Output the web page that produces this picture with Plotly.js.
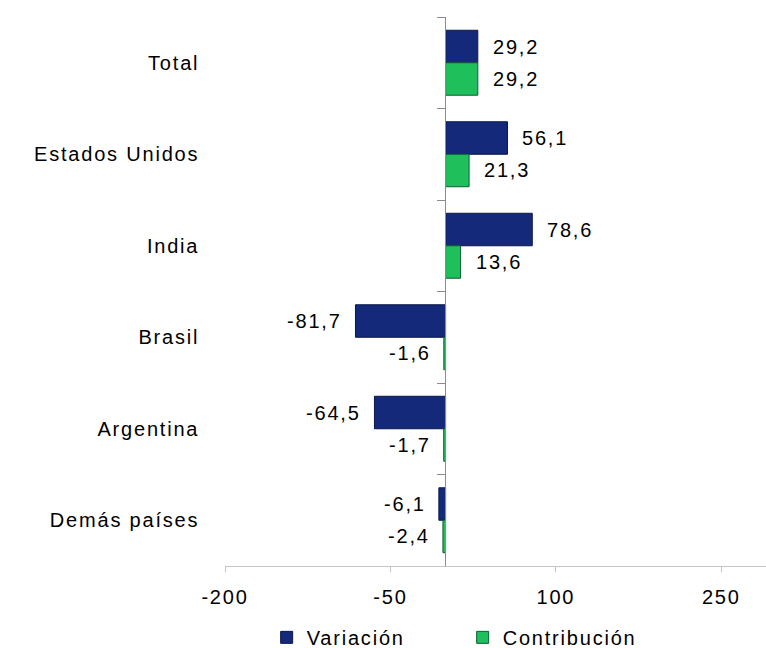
<!DOCTYPE html>
<html>
<head>
<meta charset="utf-8">
<script src="https://cdn.plot.ly/plotly-3.0.1.min.js"></script>
<style>
  html, body { margin: 0; padding: 0; background: #ffffff; }
  svg text { letter-spacing: 1.8px; }
</style>
</head>
<body>
<div id="chart" style="width:766px;height:648px;"></div>
<script>
const categories = ['Total', 'Estados Unidos', 'India', 'Brasil', 'Argentina', 'Demás países'];
const variacion = [29.2, 56.1, 78.6, -81.7, -64.5, -6.1];
const contribucion = [29.2, 21.3, 13.6, -1.6, -1.7, -2.4];
const seriesNames = ['Variación', 'Contribución'];
const tickValues = [-200, -50, 100, 250];

const FONT = 'Liberation Sans, Arial, sans-serif';
const fmt = v => v.toFixed(1).replace('.', ',');

const colors = ['#15297a', '#1fbf5c'];
const lineColors = ['#0a1748', '#0e5c33'];
const seriesValues = [variacion, contribucion];

const traces = seriesValues.map((vals, t) => ({
  type: 'bar',
  orientation: 'h',
  name: seriesNames[t],
  x: vals,
  y: categories,
  marker: { color: colors[t], line: { color: lineColors[t], width: 1 } },
  hoverinfo: 'x+y'
}));

const annotations = [];
seriesValues.forEach((vals, t) => {
  vals.forEach((v, i) => {
    annotations.push({
      x: v, y: categories[i], xref: 'x', yref: 'y',
      text: fmt(v), showarrow: false,
      xanchor: v >= 0 ? 'left' : 'right',
      xshift: v >= 0 ? 13 : -11,
      yshift: t === 0 ? 16 : -16,
      font: { family: FONT, size: 20, color: '#000000' }
    });
  });
});

const layout = {
  width: 766, height: 648,
  margin: { l: 225, r: 0, t: 17, b: 82, autoexpand: false },
  paper_bgcolor: '#ffffff', plot_bgcolor: '#ffffff',
  font: { family: FONT, size: 20, color: '#000000' },
  barmode: 'group', bargap: 0.29, bargroupgap: 0,
  showlegend: true,
  legend: {
    orientation: 'h', x: 0.077, xanchor: 'left', y: -0.13, yanchor: 'middle',
    font: { family: FONT, size: 20, color: '#000000' },
    traceorder: 'normal', entrywidth: 151
  },
  xaxis: {
    range: [-200, 290.5],
    tickvals: tickValues,
    ticktext: tickValues.map(String),
    showline: true, linecolor: '#c4c4c4', linewidth: 1,
    ticks: 'outside', ticklen: 5, tickcolor: '#c4c4c4',
    showgrid: false, zeroline: false,
    ticklabelstandoff: 8,
    tickfont: { family: FONT, size: 20, color: '#000000' },
    fixedrange: true
  },
  yaxis: {
    type: 'category',
    categoryorder: 'array', categoryarray: categories,
    autorange: 'reversed',
    anchor: 'free', position: (445.3 - 225) / 541,
    showline: true, linecolor: '#8c8c8c', linewidth: 1,
    ticks: 'outside', tickson: 'boundaries', ticklen: 8, tickcolor: '#8c8c8c',
    showgrid: false, zeroline: false,
    ticklabelstandoff: 242,
    tickfont: { family: FONT, size: 20, color: '#000000' },
    fixedrange: true
  },
  annotations: annotations
};

Plotly.newPlot('chart', traces, layout, { displayModeBar: false, staticPlot: true });
</script>
</body>
</html>
